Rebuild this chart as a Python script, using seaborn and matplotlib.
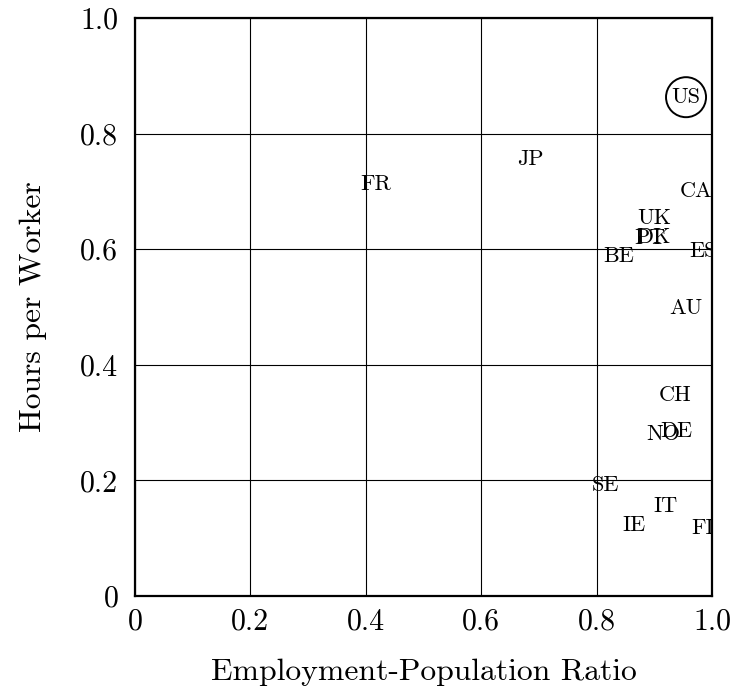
import pandas as pd
import matplotlib
matplotlib.use("Agg")
import matplotlib.pyplot as plt
import seaborn as sns

sns.set_style("whitegrid")
plt.rcParams['font.family'] = 'serif'
plt.rcParams['font.serif'] = ['cmr10', 'DejaVu Serif']
plt.rcParams['axes.formatter.use_mathtext'] = True

# country codes and their coordinates
countries = ['US', 'JP', 'FR', 'CA', 'UK', 'DK', 'PT', 'ES', 'BE', 'AU',
             'CH', 'NO', 'DE', 'SE', 'IT', 'IE', 'FI']
emp_pop = [0.955, 0.685, 0.418, 0.972, 0.900, 0.898, 0.893, 0.984, 0.839, 0.955,
           0.936, 0.915, 0.939, 0.816, 0.920, 0.865, 0.983]
hours = [0.863, 0.756, 0.713, 0.700, 0.654, 0.620, 0.619, 0.597, 0.587, 0.497,
         0.348, 0.280, 0.285, 0.192, 0.156, 0.123, 0.118]
highlight = ['US']

ticks = [0, 0.2, 0.4, 0.6, 0.8, 1.0]
tick_labels = ['0', '0.2', '0.4', '0.6', '0.8', '1.0']

df = pd.DataFrame({'country': countries, 'emp_pop': emp_pop, 'hours': hours})

fig = plt.figure(figsize=(7.33, 6.92), dpi=100)
ax = fig.add_axes([135 / 733, 96 / 692, 577 / 733, 578 / 692])

# circle around highlighted country
sns.scatterplot(data=df[df['country'].isin(highlight)], x='emp_pop', y='hours',
                s=830, marker='o', facecolor='none', edgecolor='black',
                linewidth=1.4, ax=ax, zorder=3)

for _, row in df.iterrows():
    ax.text(row['emp_pop'], row['hours'], row['country'], fontsize=16,
            ha='center', va='center', color='black', clip_on=True, zorder=4)

ax.set_xlim(0, 1)
ax.set_ylim(0, 1)
ax.set_xticks(ticks)
ax.set_xticklabels(tick_labels)
ax.set_yticks(ticks)
ax.set_yticklabels(tick_labels)
ax.tick_params(axis='both', length=0, labelsize=21.5, colors='black')
ax.tick_params(axis='x', pad=9)
ax.tick_params(axis='y', pad=12)
ax.grid(True, color='black', linewidth=0.8)
for sp in ax.spines.values():
    sp.set_color('black')
    sp.set_linewidth(1.6)
    sp.set_zorder(5)

ax.set_xlabel('Employment-Population Ratio', fontsize=22.8, labelpad=16, color='black')
ax.set_ylabel('Hours per Worker', fontsize=22.8, labelpad=24, color='black')

fig.savefig('out.png', dpi=100)
